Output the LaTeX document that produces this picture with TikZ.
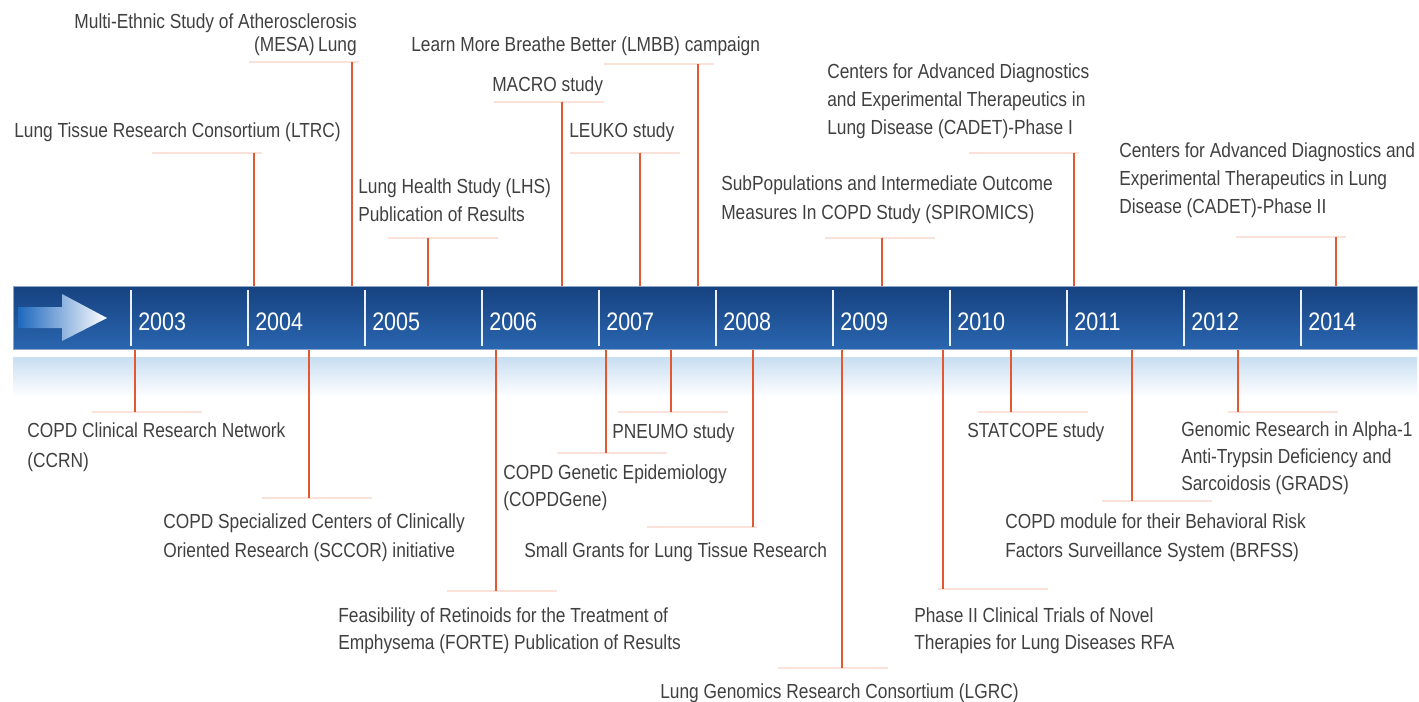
\documentclass[tikz,border=0pt]{standalone}
\usepackage{fontspec}
\setmainfont{Liberation Sans}[FakeStretch=0.85]
\definecolor{labelgray}{RGB}{64,64,64}
\definecolor{stemred}{RGB}{226,88,48}
\definecolor{rulepink}{RGB}{251,226,216}
\definecolor{bartop}{RGB}{22,66,128}
\definecolor{barmid}{RGB}{16,86,165}
\definecolor{barbot}{RGB}{42,102,176}
\definecolor{barrim}{RGB}{140,165,200}
\definecolor{reflblue}{RGB}{200,222,242}
\definecolor{arrowblue}{RGB}{30,104,190}
\begin{document}
\begin{tikzpicture}
[x=0.025cm,y=-0.025cm,
  eventtext/.style={anchor=base west,align=left,inner sep=0pt,text=labelgray,%
    font=\fontsize{14.5}{19.9}\selectfont},
  yeartext/.style={anchor=base west,inner sep=0pt,text=white,font=\fontsize{18}{20}\selectfont},
  stemline/.style={-,line width=1.6pt,draw=stemred},
  ruleline/.style={-,line width=2pt,draw=rulepink},
  yeardivider/.style={-,line width=0.8pt,draw=white!92!barmid}]
\useasboundingbox (0,0) rectangle (1419,702);
%%% time bar
% reflection below the bar
\shade[top color=reflblue,bottom color=white] (13,357) rectangle (1417,397);
% bar and arrow
\node (bar) [anchor=north west,minimum width=35.1cm,minimum height=1.575cm,inner sep=0pt,%
  draw=barrim,line width=0.6pt,top color=bartop,middle color=barmid,bottom color=barbot] at (13,286) {};
\shade[left color=arrowblue,right color=white]
  (18,307) -- (62,307) -- (62,294) -- (107,318) -- (62,341) -- (62,328) -- (18,328) -- cycle;
% years
\foreach \yr [count=\k from 0] in {2003,2004,2005,2006,2007,2008,2009,2010,2011,2012,2014} {
  \draw[yeardivider] ({131+117*\k},290) -- ({131+117*\k},346);
  \node[yeartext] (y\yr) at ({138+117*\k},330) {\yr};
}
%
%%% events above the bar
% anchor points of the stems
\coordinate (mesa) at (352,62);
\coordinate (ltrc) at (254,153);
\coordinate (lhs) at (428,238);
\coordinate (macro) at (562,102);
\coordinate (leuko) at (640,153);
\coordinate (lmbb) at (698,64);
\coordinate (spiromics) at (882,238);
\coordinate (cadeti) at (1074,153);
\coordinate (cadetii) at (1336,237);
% rules and stems
\draw[ruleline] (mesa) ++(-103,0) -- ++(110,0);
\draw[ruleline] (ltrc) ++(-102,0) -- ++(110,0);
\draw[ruleline] (lhs) ++(-40,0) -- ++(110,0);
\draw[ruleline] (macro) ++(-68,0) -- ++(110,0);
\draw[ruleline] (leuko) ++(-70,0) -- ++(110,0);
\draw[ruleline] (lmbb) ++(-94,0) -- ++(110,0);
\draw[ruleline] (spiromics) ++(-57,0) -- ++(110,0);
\draw[ruleline] (cadeti) ++(-105,0) -- ++(110,0);
\draw[ruleline] (cadetii) ++(-100,0) -- ++(110,0);
\foreach \ev in {mesa,ltrc,lhs,macro,leuko,lmbb,spiromics,cadeti,cadetii}
  \draw[stemline] (\ev) -- (\ev |- bar.north);
% texts (base = last line)
\node[eventtext,anchor=base east,align=right,font=\fontsize{14.5}{17}\selectfont] (mesa-txt) at (357,52)
  {Multi-Ethnic Study of Atherosclerosis\\(MESA)\,Lung};
\node[eventtext] (ltrc-txt) at (14,138) {Lung Tissue Research Consortium (LTRC)};
\node[eventtext] (lhs-txt) at (358,221) {Lung Health Study (LHS)\\Publication of Results};
\node[eventtext] (macro-txt) at (492,92) {MACRO study};
\node[eventtext] (leuko-txt) at (569,138) {LEUKO study};
\node[eventtext] (lmbb-txt) at (411,52) {Learn More Breathe Better (LMBB) campaign};
\node[eventtext,font=\fontsize{14.5}{20.5}\selectfont] (spiromics-txt) at (721,219)
  {SubPopulations and Intermediate Outcome\\Measures In COPD Study (SPIROMICS)};
\node[eventtext,font=\fontsize{14.5}{20.2}\selectfont] (cadeti-txt) at (827,135)
  {Centers for Advanced Diagnostics\\and Experimental Therapeutics in\\Lung Disease (CADET)-Phase I};
\node[eventtext] (cadetii-txt) at (1119,213)
  {Centers for Advanced Diagnostics and\\Experimental Therapeutics in Lung\\Disease (CADET)-Phase II};
%
%%% events below the bar
% anchor points of the stems
\coordinate (ccrn) at (135,412);
\coordinate (sccor) at (309,498);
\coordinate (forte) at (496,591);
\coordinate (copdgene) at (606,453);
\coordinate (pneumo) at (671,412);
\coordinate (grants) at (753,527);
\coordinate (lgrc) at (842,668);
\coordinate (phaseii) at (943,589);
\coordinate (statcope) at (1011,412);
\coordinate (brfss) at (1132,501);
\coordinate (grads) at (1238,412);
% rules and stems
\draw[ruleline] (ccrn) ++(-43,0) -- ++(110,0);
\draw[ruleline] (sccor) ++(-47,0) -- ++(110,0);
\draw[ruleline] (forte) ++(-49,0) -- ++(110,0);
\draw[ruleline] (copdgene) ++(-49,0) -- ++(110,0);
\draw[ruleline] (pneumo) ++(-53,0) -- ++(110,0);
\draw[ruleline] (grants) ++(-106,0) -- ++(110,0);
\draw[ruleline] (lgrc) ++(-64,0) -- ++(110,0);
\draw[ruleline] (phaseii) ++(-5,0) -- ++(110,0);
\draw[ruleline] (statcope) ++(-33,0) -- ++(110,0);
\draw[ruleline] (brfss) ++(-30,0) -- ++(110,0);
\draw[ruleline] (grads) ++(-10,0) -- ++(110,0);
\foreach \ev in {ccrn,sccor,forte,copdgene,pneumo,grants,lgrc,phaseii,statcope,brfss,grads}
  \draw[stemline] (\ev) -- (\ev |- bar.south);
% texts (base = last line)
\node[eventtext,font=\fontsize{14.5}{21.3}\selectfont] (ccrn-txt) at (27,467)
  {COPD Clinical Research Network\\(CCRN)};
\node[eventtext,font=\fontsize{14.5}{20.6}\selectfont] (sccor-txt) at (163,557)
  {COPD Specialized Centers of Clinically\\Oriented Research (SCCOR) initiative};
\node[eventtext,font=\fontsize{14.5}{19.2}\selectfont] (forte-txt) at (338,649)
  {Feasibility of Retinoids for the Treatment of\\Emphysema (FORTE) Publication of Results};
\node[eventtext,font=\fontsize{14.5}{18.5}\selectfont] (copdgene-txt) at (503,506)
  {COPD Genetic Epidemiology\\(COPDGene)};
\node[eventtext] (pneumo-txt) at (612,438) {PNEUMO study};
\node[eventtext] (grants-txt) at (524,557) {Small Grants for Lung Tissue Research};
\node[eventtext] (lgrc-txt) at (660,698) {Lung Genomics Research Consortium (LGRC)};
\node[eventtext,font=\fontsize{14.5}{19.2}\selectfont] (phaseii-txt) at (914,649)
  {Phase II Clinical Trials of Novel\\Therapies for Lung Diseases RFA};
\node[eventtext] (statcope-txt) at (967,437) {STATCOPE study};
\node[eventtext,font=\fontsize{14.5}{20.6}\selectfont] (brfss-txt) at (1005,557)
  {COPD module for their Behavioral Risk\\Factors Surveillance System (BRFSS)};
\node[eventtext,font=\fontsize{14.5}{19}\selectfont] (grads-txt) at (1181,490)
  {Genomic Research in Alpha-1\\Anti-Trypsin Deficiency and\\Sarcoidosis (GRADS)};
\end{tikzpicture}
\end{document}
